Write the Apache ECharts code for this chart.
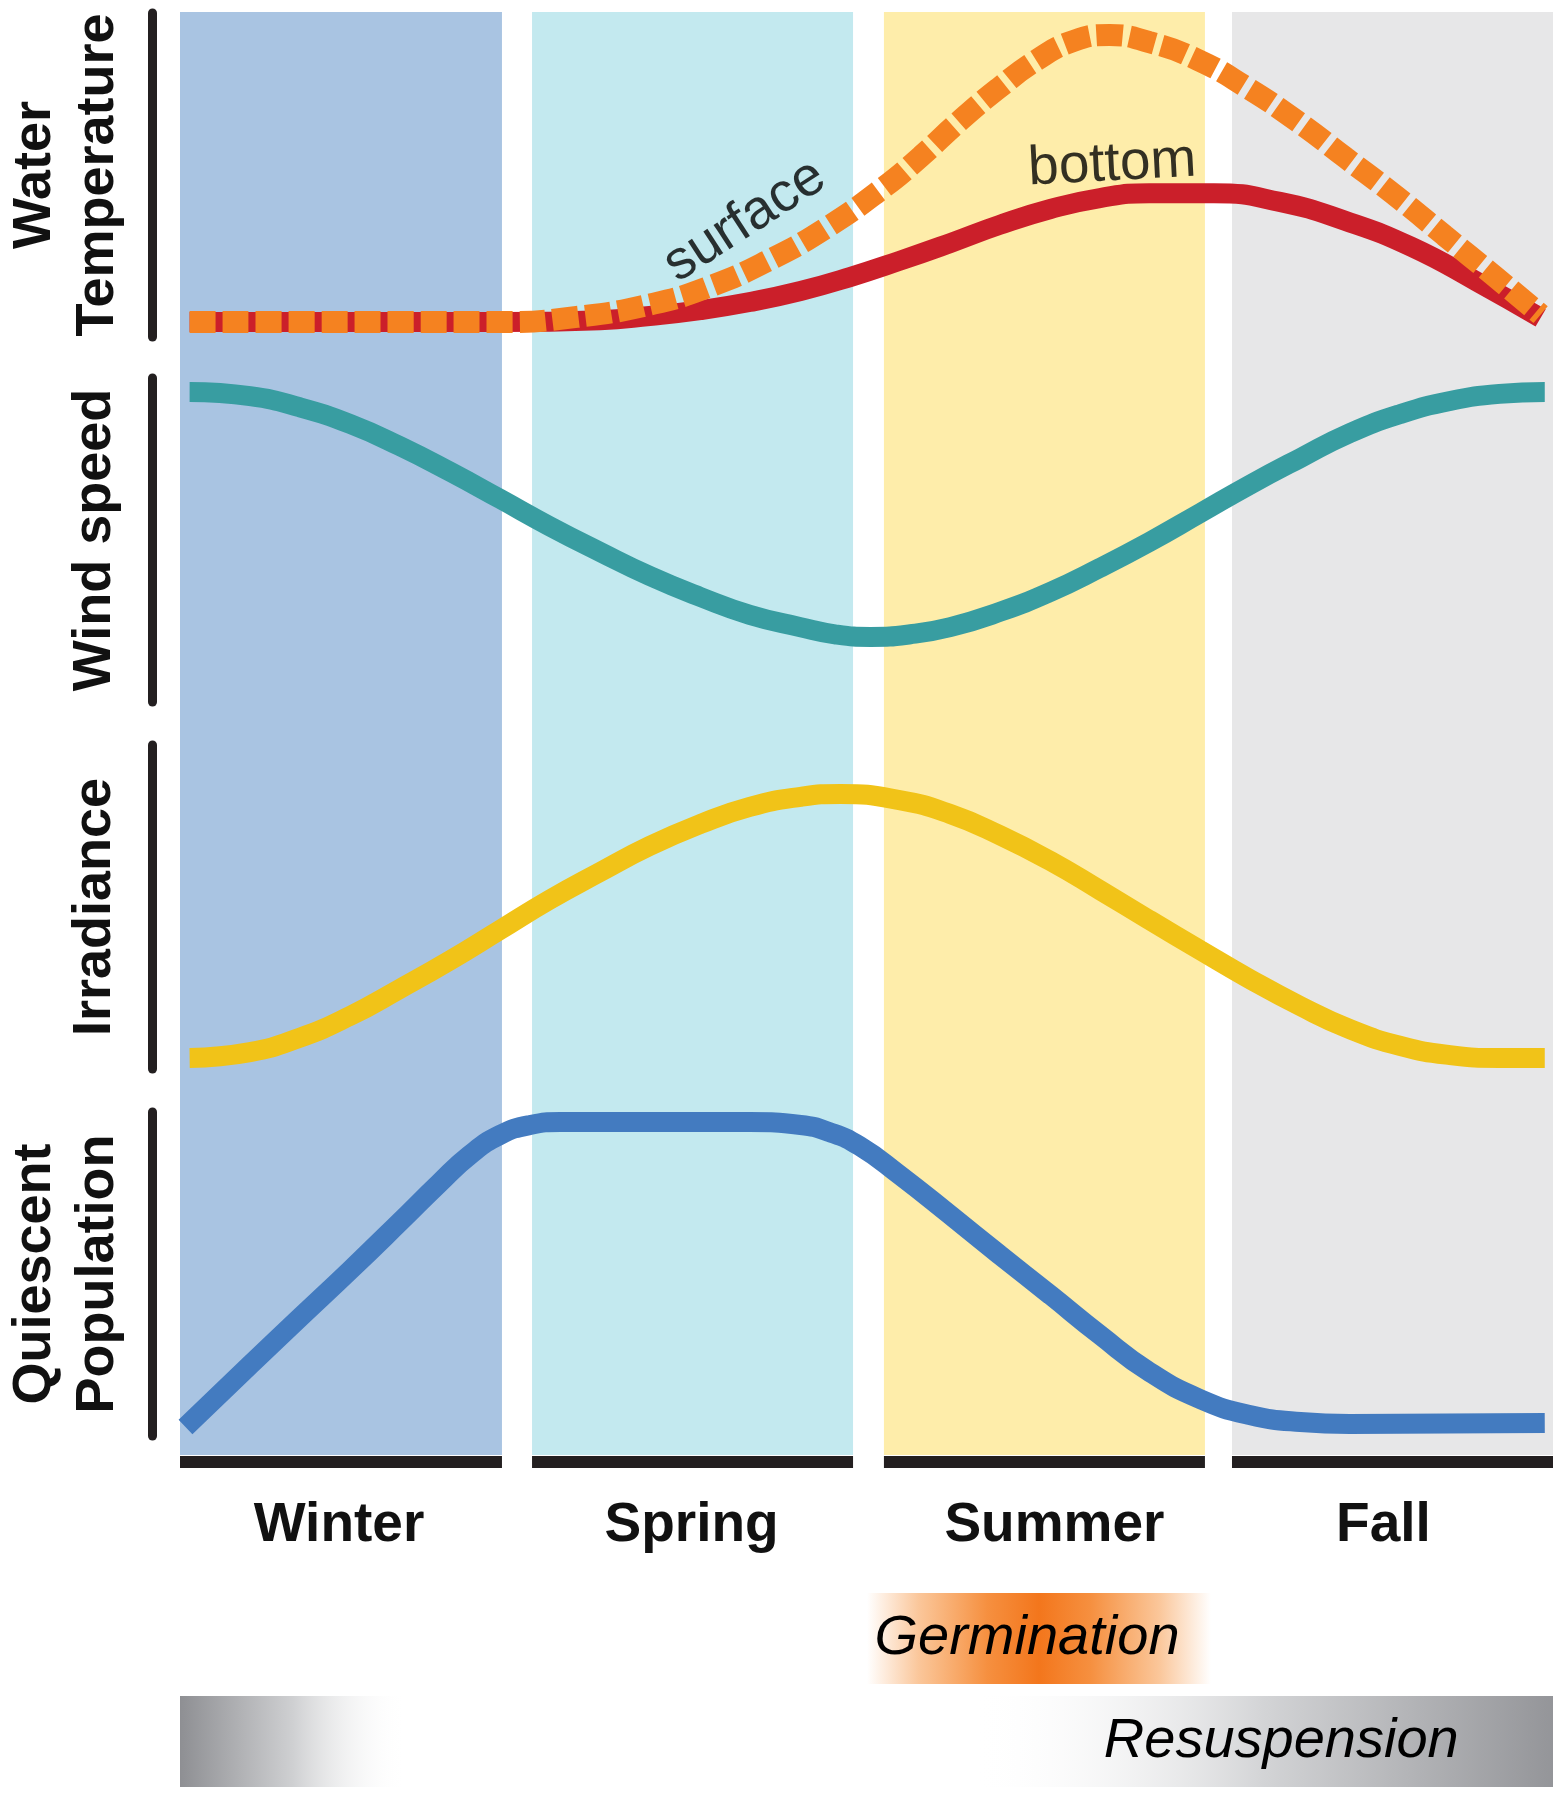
<!DOCTYPE html>
<html>
<head>
<meta charset="utf-8">
<script src="https://cdn.jsdelivr.net/npm/echarts@6/dist/echarts.min.js"></script>
<style>
  html, body { margin: 0; padding: 0; background: #fff; }
  #chart { width: 1566px; height: 1800px; }
</style>
</head>
<body>
<div id="chart"></div>
<script>
// x is position in the year, 0..100 ; y is relative level in each panel, 0..100
const seasons = ['Winter', 'Spring', 'Summer', 'Fall'];
const seasonSpans = [[0, 23.45], [25.64, 49.02], [51.27, 74.65], [76.62, 100]];
const panelNames = ['Water\nTemperature', 'Wind speed', 'Irradiance', 'Quiescent\nPopulation'];

const tempBottom = [[0.7, 4.6], [8.7, 4.6], [16.0, 4.6], [23.3, 4.6], [30.6, 5.2], [34.2, 6.5], [37.9, 8.3],
  [41.5, 10.8], [45.2, 14.2], [48.8, 18.5], [52.4, 23.5], [56.1, 29.0], [59.7, 34.6], [63.4, 39.5],
  [67.0, 42.9], [70.6, 44.4], [75.3, 44.4], [80.1, 41.7], [84.9, 35.8], [89.7, 27.8], [94.5, 17.0], [99.1, 5.9]];
const tempSurface = [[0.7, 4.6], [8.7, 4.6], [16.0, 4.6], [23.3, 4.6], [28.9, 6.2], [34.5, 10.3], [38.6, 15.6],
  [42.8, 23.5], [47.0, 33.5], [51.2, 46.0], [54.0, 55.9], [56.7, 66.4], [59.6, 76.7], [62.4, 85.5],
  [65.1, 91.4], [67.7, 93.2], [70.6, 91.0], [74.1, 85.6], [77.7, 77.0], [81.4, 66.5], [84.9, 55.3],
  [88.5, 43.7], [92.1, 31.3], [95.7, 18.9], [99.1, 6.9]];
const windSpeed = [[0.7, 95.7], [5.1, 94.4], [8.7, 91.0], [12.4, 85.8], [16.0, 79.0], [19.7, 71.0], [23.3, 62.7],
  [26.9, 54.3], [30.6, 46.3], [34.2, 38.9], [37.9, 32.4], [41.5, 26.9], [45.2, 23.1], [47.7, 20.9], [50.3, 20.1],
  [53.2, 20.9], [56.1, 23.1], [59.7, 27.8], [63.4, 34.0], [67.0, 41.4], [70.6, 49.4], [74.3, 58.3], [77.9, 67.0],
  [81.6, 75.3], [85.2, 83.0], [88.9, 88.9], [92.5, 92.9], [96.1, 95.1], [99.4, 95.7]];
const irradiance = [[0.7, 3.4], [5.1, 5.2], [8.7, 9.6], [12.4, 16.4], [16.0, 24.7], [19.7, 33.6], [23.3, 42.9],
  [26.9, 52.2], [30.6, 60.8], [34.2, 68.8], [37.9, 75.6], [41.5, 80.9], [45.2, 84.0], [48.1, 84.9],
  [52.4, 83.0], [56.1, 78.7], [59.7, 72.2], [63.4, 64.2], [67.0, 55.2], [70.6, 46.0], [74.3, 36.7],
  [77.9, 27.8], [81.6, 19.4], [85.2, 12.3], [88.9, 7.1], [92.5, 4.3], [96.1, 3.4], [99.4, 3.4]];
const quiescent = [[0.4, 2.8], [5.1, 21.9], [8.7, 36.4], [12.4, 51.2], [16.0, 66.0], [18.9, 78.1], [21.1, 86.7],
  [23.3, 92.9], [25.5, 96.0], [27.7, 96.9], [34.2, 96.9], [41.5, 96.9], [45.2, 96.0], [47.3, 93.8],
  [49.5, 89.5], [52.4, 80.6], [56.1, 68.2], [59.7, 55.9], [63.4, 43.5], [67.0, 31.2], [70.6, 19.8],
  [74.3, 11.4], [77.9, 6.5], [81.6, 4.3], [85.2, 3.7], [99.4, 4.0]];

// line labels in panel 1: [text, x, y, rotation]
const curveLabels = [['surface', 41.15, 35.8, 33], ['bottom', 67.9, 53.1, 3]];
const germination = [50.04, 75.09];
const resuspensionLeft = [0, 16.5];
const resuspensionRight = [57.8, 100];

const FONT = '"Liberation Sans", Arial, Helvetica, sans-serif';
const bandColors = ['#a9c4e2', '#c3e9ef', '#feedaa', '#e7e7e8'];
const seasonLabelShift = [-2, -1, 10, -9];
const LG = echarts.graphic.LinearGradient;

const chart = echarts.init(document.getElementById('chart'), null, { renderer: 'canvas' });

const gridBoxes = [
  [12, 1443],   // season bands
  [13, 324],    // water temperature
  [378, 324],   // wind
  [745, 324],   // irradiance
  [1112, 324],  // quiescent
  [1456, 12],   // black season bars
  [1593, 91],   // germination
  [1696, 91]    // resuspension
];
const grids = gridBoxes.map(b => ({ left: 180, width: 1373, top: b[0], height: b[1], outerBoundsMode: 'none' }));
const xAxes = gridBoxes.map((b, i) => ({ type: 'value', gridIndex: i, min: 0, max: 100, show: false }));
const yAxes = gridBoxes.map((b, i) => {
  const p = i - 1;
  if (p < 0 || p > 3) return { type: 'value', gridIndex: i, min: 0, max: 100, show: false };
  return {
    type: 'value', gridIndex: i, min: 0, max: 100, offset: 28,
    axisLine: { show: true, onZero: false, lineStyle: { color: '#231f20', width: 9 } },
    axisTick: { show: false }, axisLabel: { show: false }, splitLine: { show: false },
    name: panelNames[p], nameLocation: 'middle', nameRotate: 90,
    nameGap: panelNames[p].indexOf('\n') >= 0 ? 22 : 25,
    nameTextStyle: { fontSize: 54, fontWeight: 'bold', color: '#111', lineHeight: 63, fontFamily: FONT }
  };
});

function curve(name, data, idx, color, width, extra) {
  return Object.assign({
    name, type: 'line', xAxisIndex: idx, yAxisIndex: idx, data,
    smooth: 0.5, showSymbol: false, symbol: 'none', z: 3,
    lineStyle: { color, width, cap: 'butt' }
  }, extra || {});
}

const option = {
  animation: false,
  backgroundColor: '#fff',
  grid: grids,
  xAxis: xAxes,
  yAxis: yAxes,
  series: [
    {
      type: 'line', xAxisIndex: 0, yAxisIndex: 0, data: [], z: 0, silent: true,
      markArea: {
        silent: true,
        data: seasonSpans.map((s, i) => [{ xAxis: s[0], itemStyle: { color: bandColors[i] } }, { xAxis: s[1] }])
      }
    },
    {
      type: 'line', xAxisIndex: 5, yAxisIndex: 5, data: [], z: 1, silent: true,
      markArea: {
        silent: true,
        label: {
          show: true, position: 'bottom', distance: 30, fontSize: 55, fontWeight: 'bold',
          color: '#111', fontFamily: FONT
        },
        data: seasonSpans.map((s, i) => [{
          name: seasons[i], xAxis: s[0], itemStyle: { color: '#231f20' },
          label: { offset: [seasonLabelShift[i], 0] }
        }, { xAxis: s[1] }])
      }
    },
    curve('bottom', tempBottom, 1, '#cb1f2a', 20),
    curve('surface', tempSurface, 1, '#f58220', 22, { lineStyle: { color: '#f58220', width: 22, type: [26, 7], cap: 'butt' }, z: 4 }),
    curve('Wind speed', windSpeed, 2, '#389da1', 20),
    curve('Irradiance', irradiance, 3, '#f1c318', 20),
    curve('Quiescent population', quiescent, 4, '#437bc0', 20),
    {
      type: 'scatter', xAxisIndex: 1, yAxisIndex: 1, symbolSize: 0, z: 5, silent: true,
      data: curveLabels.map(l => ({ name: l[0], value: [l[1], l[2]], label: { rotate: l[3] } })),
      label: {
        show: true, position: 'inside', formatter: '{b}', fontSize: 55, color: '#000', fontFamily: FONT
      }
    },
    {
      type: 'line', xAxisIndex: 6, yAxisIndex: 6, data: [], z: 1, silent: true,
      markArea: {
        silent: true,
        data: [[{
          name: 'Germination', xAxis: germination[0],
          itemStyle: {
            color: new LG(0, 0, 1, 0, [
              { offset: 0, color: 'rgba(245,130,32,0)' },
              { offset: 0.15, color: 'rgba(245,130,32,0.45)' },
              { offset: 0.35, color: 'rgba(244,124,30,0.85)' },
              { offset: 0.5, color: 'rgba(243,118,28,1)' },
              { offset: 0.65, color: 'rgba(244,124,30,0.85)' },
              { offset: 0.85, color: 'rgba(245,130,32,0.45)' },
              { offset: 1, color: 'rgba(245,130,32,0)' }
            ])
          },
          label: {
            show: true, position: 'inside', offset: [-12, 0], fontSize: 56, fontStyle: 'italic',
            color: '#000', fontFamily: FONT
          }
        }, { xAxis: germination[1] }]]
      }
    },
    {
      type: 'line', xAxisIndex: 7, yAxisIndex: 7, data: [], z: 1, silent: true,
      markArea: {
        silent: true,
        data: [
          [{
            name: '', xAxis: resuspensionLeft[0],
            itemStyle: {
              color: new LG(0, 0, 1, 0, [
                { offset: 0, color: '#8e8f93' },
                { offset: 0.5, color: '#cfd0d2' },
                { offset: 1, color: 'rgba(255,255,255,0)' }
              ])
            },
            label: { show: false }
          }, { xAxis: resuspensionLeft[1] }],
          [{
            name: 'Resuspension', xAxis: resuspensionRight[0],
            itemStyle: {
              color: new LG(0, 0, 1, 0, [
                { offset: 0, color: 'rgba(255,255,255,0)' },
                { offset: 0.5, color: '#d3d4d6' },
                { offset: 1, color: '#949599' }
              ])
            },
            label: {
              show: true, position: 'inside', offset: [18, 0], fontSize: 56, fontStyle: 'italic',
              color: '#000', fontFamily: FONT
            }
          }, { xAxis: resuspensionRight[1] }]
        ]
      }
    }
  ]
};

chart.setOption(option);
</script>
</body>
</html>
